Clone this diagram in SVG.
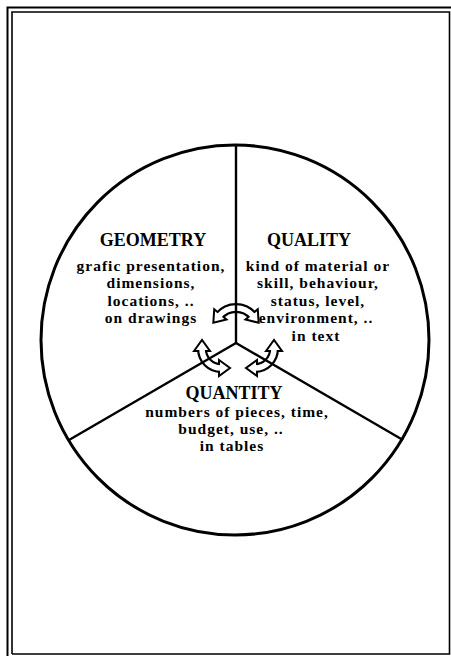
<svg xmlns="http://www.w3.org/2000/svg" width="451" height="656" viewBox="0 0 451 656">
<defs>
<style>
.frame{fill:none;stroke:#000}
.pie{fill:none;stroke:#000;stroke-width:3}
.spoke{stroke:#000;stroke-width:2.4;stroke-linecap:butt}
.head{font-family:"Liberation Serif","Times New Roman",serif;font-weight:bold;font-size:18px;text-anchor:middle;fill:#000}
.body{font-family:"Liberation Serif","Times New Roman",serif;font-weight:bold;font-size:15.5px;letter-spacing:1px;text-anchor:middle;fill:#000}
.aout{fill:none;stroke:#000;stroke-width:10;marker-start:url(#ah);marker-end:url(#ah)}
.ain{fill:none;stroke:#fff;stroke-width:5.6}
</style>
<marker id="ah" markerUnits="userSpaceOnUse" viewBox="-3 -10 17 20" markerWidth="17" markerHeight="20" refX="2" refY="0" orient="auto-start-reverse" overflow="visible">
<polygon points="0,-8 11,0 0,8" fill="#fff" stroke="#000" stroke-width="2" stroke-linejoin="miter"/>
</marker>
</defs>
<rect width="451" height="656" fill="#fff"/>
<g id="frame">
<path class="frame" stroke-width="2" d="M7.5 656 V7.5 H451"/>
<path class="frame" stroke-width="1.6" d="M12 654 V12 H449.5 V654 H12"/>
</g>
<g id="pie">
<ellipse class="pie" cx="235" cy="340" rx="194" ry="195"/>
</g>
<g id="connectors">
<path class="aout" d="M219.1 315.9 A22 22 0 0 1 252.9 315.9"/>
<path class="ain" d="M219.1 315.9 A22 22 0 0 1 252.9 315.9"/>
<path class="aout" d="M202 349 A19 19 0 0 0 221 368"/>
<path class="ain" d="M202 349 A19 19 0 0 0 221 368"/>
<path class="aout" d="M274 349 A19 19 0 0 1 255 368"/>
<path class="ain" d="M274 349 A19 19 0 0 1 255 368"/>
</g>
<g id="dividers">
<line class="spoke" x1="236" y1="145" x2="236" y2="343"/>
<line class="spoke" x1="236" y1="343" x2="69" y2="440"/>
<line class="spoke" x1="236" y1="343" x2="403" y2="440"/>
</g>
<g id="geometry">
<text class="head" x="153" y="246">GEOMETRY</text>
<text class="body" x="151" y="270.5">grafic presentation,</text>
<text class="body" x="151" y="288">dimensions,</text>
<text class="body" x="151" y="305.5">locations, ..</text>
<text class="body" x="151" y="323">on drawings</text>
</g>
<g id="quality">
<text class="head" x="309" y="246">QUALITY</text>
<text class="body" x="318" y="270.5">kind of material or</text>
<text class="body" x="318" y="288">skill, behaviour,</text>
<text class="body" x="318" y="305.5">status, level,</text>
<text class="body" x="316" y="323">environment, ..</text>
<text class="body" x="316" y="340.5">in text</text>
</g>
<g id="quantity">
<text class="head" x="234" y="399">QUANTITY</text>
<text class="body" x="237" y="416.8">numbers of pieces, time,</text>
<text class="body" x="231" y="434">budget, use, ..</text>
<text class="body" x="232" y="451.2">in tables</text>
</g>
</svg>
